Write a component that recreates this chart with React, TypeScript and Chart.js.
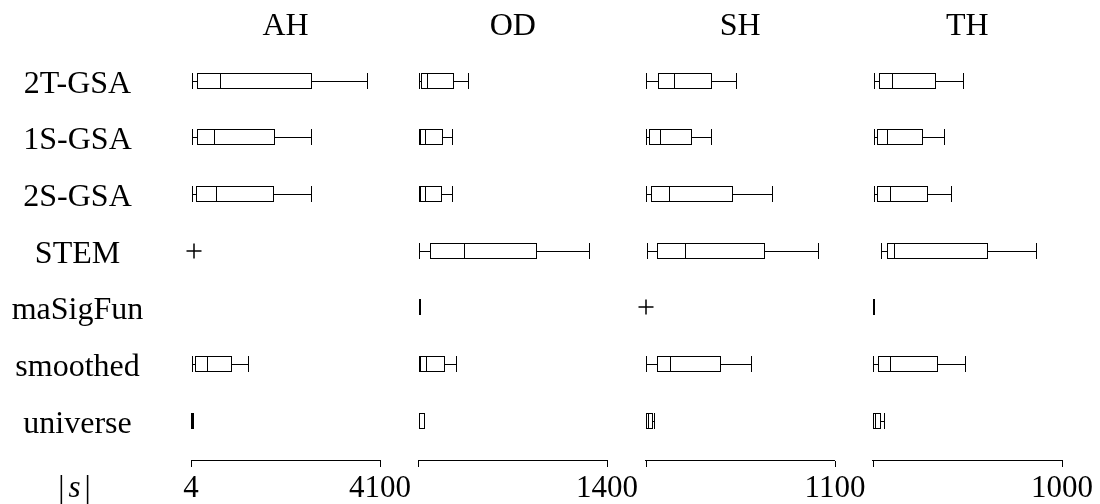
import React, { useEffect, useRef } from "react";
import { Chart, registerables } from "chart.js";

Chart.register(...registerables);

// ---------- data ----------
const panels = ["AH", "OD", "SH", "TH"];
const rows = ["2T-GSA", "1S-GSA", "2S-GSA", "STEM", "maSigFun", "smoothed", "universe"];
const axisMin = [4, 4, 4, 4];
const axisMax = [4100, 1400, 1100, 1000];
const tickLabelsLeft = ["4", "", "", ""];
const tickLabelsRight = ["4100", "1400", "1100", "1000"];
const axisTitle = "s";

type Box = [number, number, number, number, number] | null; // [whiskerLow, q1, median, q3, whiskerHigh]

const boxesAH: Box[] = [
  [21, 138, 622, 2622, 3836],
  [21, 138, 507, 1820, 2631],
  [21, 123, 535, 1798, 2622],
  null,
  null,
  [21, 86, 346, 882, 1257],
  [8, 8, 30, 65, 65],
];
const boxesOD: Box[] = [
  [8, 25, 72, 268, 379],
  [8, 20, 54, 183, 261],
  [8, 20, 55, 182, 262],
  [10, 87, 340, 881, 1273],
  [8, 8, 12, 22, 22],
  [8, 17, 59, 202, 291],
  [8, 8, 47, 57, 57],
];
const boxesSH: Box[] = [
  [7, 75, 168, 388, 535],
  [7, 26, 86, 272, 390],
  [7, 38, 142, 513, 745],
  [11, 72, 231, 697, 1006],
  null,
  [5, 69, 148, 444, 623],
  [5, 5, 17, 49, 59],
];
const boxesTH: Box[] = [
  [8, 38, 107, 339, 482],
  [8, 26, 79, 266, 382],
  [8, 26, 93, 295, 421],
  [47, 77, 116, 609, 869],
  [5, 5, 8, 15, 15],
  [5, 29, 96, 348, 497],
  [5, 5, 17, 47, 66],
];

const fliersAH: (number | null)[] = [null, null, null, 73, null, null, null];
const fliersOD: (number | null)[] = [null, null, null, null, null, null, null];
const fliersSH: (number | null)[] = [null, null, null, null, 5, null, null];
const fliersTH: (number | null)[] = [null, null, null, null, null, null, null];

const panelBoxes = [boxesAH, boxesOD, boxesSH, boxesTH];
const panelFliers = [fliersAH, fliersOD, fliersSH, fliersTH];

// ---------- layout constants ----------
const W = 1100;
const H = 504;
const FONT = '"Liberation Serif", "Times New Roman", serif';
const axisIds = ["xAH", "xOD", "xSH", "xTH"];
const PANEL_W = 189;
const GAP_W = 38;
const TOP = 52;
const BOTTOM_AXIS = 460;
const ROW0 = 80.5;
const ROW_PITCH = 56.67;
const HALF_BOX = 8;

const yMin = -(ROW0 - TOP) / ROW_PITCH;
const yMax = rows.length - 1 + (BOTTOM_AXIS - (ROW0 + (rows.length - 1) * ROW_PITCH)) / ROW_PITCH;

const boxPartsPlugin = {
  id: "boxParts",
  afterDatasetsDraw(chart: any) {
    const ctx = chart.ctx;
    const ys = chart.scales.y;
    ctx.save();
    ctx.strokeStyle = "#000";
    ctx.lineWidth = 1;
    panelBoxes.forEach((boxes, p) => {
      const xs = chart.scales[axisIds[p]];
      boxes.forEach((b, i) => {
        if (!b) return;
        const cy = ys.getPixelForValue(i);
        const top = cy - HALF_BOX;
        const bot = cy + HALF_BOX;
        const mid = cy + 0.5;
        const [wl, q1, med, q3, wh] = b.map((v) => xs.getPixelForValue(v));
        ctx.beginPath();
        ctx.moveTo(wl, mid);
        ctx.lineTo(q1, mid);
        ctx.moveTo(q3, mid);
        ctx.lineTo(wh, mid);
        ctx.moveTo(wl + 0.5, top);
        ctx.lineTo(wl + 0.5, bot);
        ctx.moveTo(wh - 0.5, top);
        ctx.lineTo(wh - 0.5, bot);
        ctx.moveTo(med + 0.5, top);
        ctx.lineTo(med + 0.5, bot);
        ctx.stroke();
      });
    });
    ctx.restore();
  },
  afterDraw(chart: any) {
    const ctx = chart.ctx;
    const ys = chart.scales.y;
    ctx.save();
    ctx.fillStyle = "#000";
    ctx.textAlign = "center";
    ctx.textBaseline = "alphabetic";
    // headers
    ctx.font = `32px ${FONT}`;
    panels.forEach((name, p) => {
      const xs = chart.scales[axisIds[p]];
      ctx.fillText(name, (xs.left + xs.right) / 2, 35);
    });
    // row labels
    rows.forEach((r, i) => {
      ctx.fillText(r, 77.5, ys.getPixelForValue(i) + 11.5);
    });
    // tick labels
    ctx.font = `31px ${FONT}`;
    panels.forEach((_, p) => {
      const xs = chart.scales[axisIds[p]];
      if (tickLabelsLeft[p]) ctx.fillText(tickLabelsLeft[p], xs.getPixelForValue(axisMin[p]), 497);
      if (tickLabelsRight[p]) ctx.fillText(tickLabelsRight[p], xs.getPixelForValue(axisMax[p]), 497);
    });
    // |s|
    ctx.textAlign = "left";
    const barW = ctx.measureText("|").width;
    ctx.font = `italic 31px ${FONT}`;
    const sW = ctx.measureText(axisTitle).width;
    const gap = 4;
    const total = barW * 2 + sW + gap * 2;
    let x = 74.5 - total / 2;
    ctx.font = `31px ${FONT}`;
    ctx.fillText("|", x, 497);
    x += barW + gap;
    ctx.font = `italic 31px ${FONT}`;
    ctx.fillText(axisTitle, x, 497);
    x += sW + gap;
    ctx.font = `31px ${FONT}`;
    ctx.fillText("|", x, 497);
    ctx.restore();
  },
};

export default function App() {
  const canvasRef = useRef<HTMLCanvasElement | null>(null);

  useEffect(() => {
    if (!canvasRef.current) return;

    const datasets: any[] = [];
    panelBoxes.forEach((boxes, p) => {
      datasets.push({
        type: "bar",
        indexAxis: "y",
        xAxisID: axisIds[p],
        yAxisID: "y",
        data: boxes
          .map((b, i) => (b ? { x: [b[1], b[3]], y: i } : null))
          .filter((d) => d !== null),
        backgroundColor: "#fff",
        borderColor: "#000",
        borderWidth: 1,
        borderSkipped: false,
        inflateAmount: 0,
        grouped: false,
        barThickness: 16,
        clip: false,
      });
      datasets.push({
        type: "scatter",
        indexAxis: "y",
        xAxisID: axisIds[p],
        yAxisID: "y",
        data: panelFliers[p]
          .map((v, i) => (v !== null ? { x: v, y: i } : null))
          .filter((d) => d !== null),
        pointStyle: "cross",
        pointRadius: 7.5,
        borderColor: "#000",
        backgroundColor: "#000",
        borderWidth: 1.5,
        showLine: false,
        clip: false,
      });
    });

    const panelScale = (p: number) => ({
      type: "linear",
      axis: "x",
      position: "bottom",
      stack: "panels",
      stackWeight: PANEL_W,
      min: axisMin[p],
      max: axisMax[p],
      beginAtZero: false,
      offset: false,
      alignToPixels: true,
      afterBuildTicks: (scale: any) => {
        scale.ticks = [{ value: axisMin[p] }, { value: axisMax[p] }];
      },
      ticks: { display: false },
      grid: {
        display: true,
        offset: false,
        drawOnChartArea: false,
        drawTicks: true,
        tickLength: 7,
        color: "#000",
        lineWidth: 1,
      },
      border: { display: true, color: "#000", width: 1 },
    });
    const gapScale = () => ({
      type: "linear",
      axis: "x",
      position: "bottom",
      stack: "panels",
      stackWeight: GAP_W,
      display: false,
      offset: false,
      grid: { offset: false },
    });

    const chart = new Chart(canvasRef.current, {
      type: "bar",
      data: { datasets },
      options: {
        indexAxis: "y",
        animation: false,
        responsive: true,
        maintainAspectRatio: false,
        events: [],
        layout: { padding: { left: 191, right: 38, top: TOP, bottom: H - BOTTOM_AXIS - 7 } },
        plugins: { legend: { display: false }, tooltip: { enabled: false }, title: { display: false } },
        scales: {
          xAH: panelScale(0),
          xgap1: gapScale(),
          xOD: panelScale(1),
          xgap2: gapScale(),
          xSH: panelScale(2),
          xgap3: gapScale(),
          xTH: panelScale(3),
          y: {
            type: "linear",
            axis: "y",
            position: "left",
            reverse: true,
            min: yMin,
            max: yMax,
            offset: false,
            alignToPixels: true,
            grid: { offset: false },
            display: false,
          },
        } as any,
      },
      plugins: [boxPartsPlugin],
    } as any);

    return () => chart.destroy();
  }, []);

  return (
    <div style={{ position: "absolute", left: 0, top: 0, width: W, height: H, background: "#fff" }}>
      <canvas ref={canvasRef} />
    </div>
  );
}
